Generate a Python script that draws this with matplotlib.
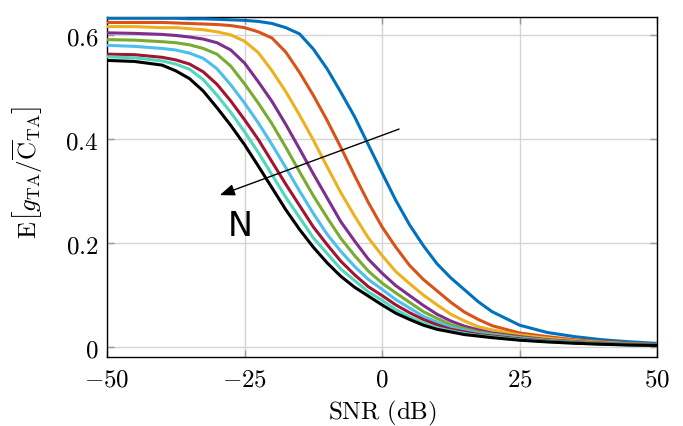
import matplotlib
matplotlib.use("Agg")
import matplotlib.pyplot as plt

# ---- data ----
snr_db = [-50, -45, -40, -37.5, -35, -32.5, -30, -27.5, -25, -22.5, -20, -17.5, -15, -12.5, -10, -7.5,
          -5, -2.5, 0, 2.5, 5, 7.5, 10, 12.5, 15, 17.5, 20, 25, 30, 35, 40, 45, 50]

curve_blue = [0.632, 0.632, 0.632, 0.632, 0.631, 0.631, 0.630, 0.629, 0.628, 0.626, 0.622, 0.614, 0.602,
              0.573, 0.535, 0.490, 0.443, 0.389, 0.335, 0.282, 0.235, 0.195, 0.160, 0.133, 0.110, 0.087,
              0.068, 0.042, 0.028, 0.020, 0.014, 0.010, 0.007]
curve_orange = [0.624, 0.624, 0.624, 0.623, 0.622, 0.621, 0.620, 0.618, 0.614, 0.606, 0.594, 0.567, 0.528,
                0.484, 0.436, 0.384, 0.330, 0.278, 0.231, 0.192, 0.157, 0.130, 0.108, 0.086, 0.067, 0.053,
                0.041, 0.027, 0.020, 0.014, 0.010, 0.007, 0.005]
curve_yellow = [0.616, 0.616, 0.614, 0.614, 0.612, 0.610, 0.606, 0.600, 0.588, 0.566, 0.531, 0.491, 0.446,
                0.398, 0.347, 0.297, 0.252, 0.210, 0.176, 0.145, 0.122, 0.100, 0.081, 0.063, 0.050, 0.039,
                0.033, 0.023, 0.017, 0.012, 0.009, 0.006, 0.0045]
curve_purple = [0.604, 0.603, 0.601, 0.599, 0.596, 0.592, 0.585, 0.571, 0.546, 0.510, 0.472, 0.428, 0.381,
                0.333, 0.287, 0.241, 0.204, 0.169, 0.142, 0.118, 0.099, 0.080, 0.063, 0.050, 0.040, 0.033,
                0.027, 0.020, 0.014, 0.0105, 0.0076, 0.0055, 0.0042]
curve_green = [0.591, 0.590, 0.587, 0.585, 0.581, 0.574, 0.563, 0.540, 0.506, 0.469, 0.429, 0.384, 0.337,
               0.291, 0.249, 0.209, 0.176, 0.146, 0.123, 0.104, 0.086, 0.068, 0.055, 0.043, 0.0355, 0.029,
               0.0247, 0.0183, 0.0129, 0.0097, 0.0069, 0.0051, 0.0039]
curve_lightblue = [0.580, 0.578, 0.574, 0.571, 0.565, 0.555, 0.535, 0.504, 0.469, 0.431, 0.389, 0.345, 0.300,
                   0.257, 0.217, 0.184, 0.155, 0.130, 0.111, 0.091, 0.075, 0.059, 0.048, 0.038, 0.032, 0.026,
                   0.0228, 0.0169, 0.0121, 0.0090, 0.0064, 0.0048, 0.0036]
curve_darkred = [0.563, 0.562, 0.557, 0.552, 0.544, 0.529, 0.505, 0.473, 0.437, 0.399, 0.356, 0.313, 0.272,
                 0.231, 0.197, 0.165, 0.139, 0.116, 0.099, 0.081, 0.066, 0.053, 0.0427, 0.034, 0.029, 0.024,
                 0.0211, 0.0155, 0.0112, 0.0084, 0.0060, 0.0045, 0.0034]
curve_teal = [0.558, 0.556, 0.550, 0.544, 0.534, 0.514, 0.484, 0.451, 0.414, 0.374, 0.331, 0.288, 0.249,
              0.210, 0.180, 0.150, 0.128, 0.106, 0.090, 0.072, 0.058, 0.046, 0.037, 0.031, 0.026, 0.022,
              0.0194, 0.0141, 0.0104, 0.0077, 0.0055, 0.0040, 0.0032]
curve_black = [0.551, 0.549, 0.542, 0.531, 0.516, 0.492, 0.460, 0.426, 0.389, 0.348, 0.306, 0.264, 0.226,
               0.192, 0.162, 0.136, 0.115, 0.098, 0.081, 0.065, 0.053, 0.042, 0.034, 0.029, 0.0239, 0.021,
               0.018, 0.0131, 0.0098, 0.0072, 0.0053, 0.0038, 0.003]

series = [curve_blue, curve_orange, curve_yellow, curve_purple, curve_green,
          curve_lightblue, curve_darkred, curve_teal, curve_black]
colors = ['#0072BD', '#D95319', '#EDB120', '#7E2F8E', '#77AC30',
          '#4DBEEE', '#A2142F', '#4FD8BE', '#000000']

x_ticks = [-50, -25, 0, 25, 50]
x_ticklabels = [r'$-50$', r'$-25$', r'$0$', r'$25$', r'$50$']
y_ticks = [0, 0.2, 0.4, 0.6]
y_ticklabels = [r'$0$', r'$0.2$', r'$0.4$', r'$0.6$']

arrow_start = (3.1, 0.419)
arrow_end = (-29.5, 0.292)
n_label_pos = (-25.8, 0.233)

# ---- figure ----
plt.rcParams['mathtext.fontset'] = 'cm'
plt.rcParams['font.family'] = ['DejaVu Sans']

fig = plt.figure(figsize=(6.83, 4.27), dpi=100)
ax = fig.add_axes([0.1567, 0.1616, 0.8053, 0.7964])

for ys, c in zip(series, colors):
    ax.plot(snr_db, ys, color=c, lw=2.2, solid_joinstyle='round', solid_capstyle='butt', zorder=3)

ax.set_xlim(-50, 50)
ax.set_ylim(-0.0192, 0.6346)
ax.set_xticks(x_ticks)
ax.set_xticklabels(x_ticklabels, fontsize=18)
ax.set_yticks(y_ticks)
ax.set_yticklabels(y_ticklabels, fontsize=18)
ax.tick_params(direction='in', top=True, right=True, length=5, width=1.0,
               color='#9a9a9a')
ax.tick_params(axis='x', pad=7)
ax.tick_params(axis='y', pad=6)
ax.grid(True, color='#d4d4d4', lw=1.0, zorder=0)
ax.set_axisbelow(True)
for sp in ax.spines.values():
    sp.set_linewidth(1.0)
    sp.set_color('black')

ax.set_xlabel(r'$\mathrm{SNR\ (dB)}$', fontsize=18, labelpad=5)
ax.set_ylabel(r'$\mathrm{E}\left[g_{\mathrm{TA}}/\overline{\mathrm{C}}_{\mathrm{TA}}\right]$', fontsize=18)
ax.yaxis.set_label_coords(-0.113, 0.547)

ax.annotate('', xy=arrow_end, xytext=arrow_start,
            arrowprops=dict(arrowstyle='-|>,head_length=0.9,head_width=0.35',
                            color='black', lw=1.0, shrinkA=0, shrinkB=0),
            zorder=5)
ax.text(n_label_pos[0], n_label_pos[1], 'N', fontsize=24, family='DejaVu Sans',
        ha='center', va='center', zorder=5)

fig.savefig('out.png', dpi=100)
